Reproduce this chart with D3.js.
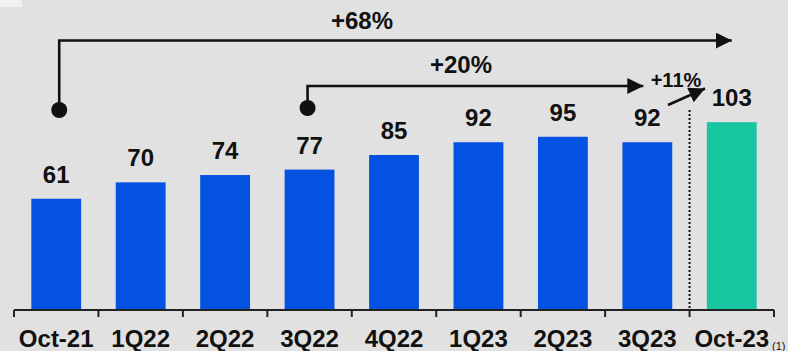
<!DOCTYPE html>
<html>
<head>
<meta charset="utf-8">
<script src="https://cdn.jsdelivr.net/npm/d3@7"></script>
<style>
html, body { margin: 0; padding: 0; background: #e1e1e1; }
svg { display: block; }
text { font-family: "Liberation Sans", Arial, sans-serif; font-weight: bold; fill: #111; }
</style>
</head>
<body>
<script>
const categories = ["Oct-21", "1Q22", "2Q22", "3Q22", "4Q22", "1Q23", "2Q23", "3Q23", "Oct-23"];
const values = [61, 70, 74, 77, 85, 92, 95, 92, 103];
const highlight = [false, false, false, false, false, false, false, false, true];
const growthLabels = ["+68%", "+20%", "+11%"];
const footnote = "(1)";

const W = 788, H = 351;
const svg = d3.select("body").append("svg").attr("width", W).attr("height", H);

svg.append("rect").attr("x", 0).attr("y", 0).attr("width", W).attr("height", H).attr("fill", "#e1e1e1");
svg.append("rect").attr("x", 0).attr("y", 0).attr("width", 22).attr("height", 7).attr("fill", "#f1f1f1");

const x = d3.scaleBand().domain(categories).range([14, 774]).paddingInner(0.41).paddingOuter(0.205);
const y = d3.scaleLinear().domain([0, 170]).range([310, 0]);
const cx = c => x(c) + x.bandwidth() / 2;

const defs = svg.append("defs");
defs.append("marker").attr("id", "ah").attr("viewBox", "0 0 10 10")
  .attr("refX", 10).attr("refY", 5).attr("markerWidth", 16).attr("markerHeight", 16)
  .attr("markerUnits", "userSpaceOnUse").attr("orient", "auto")
  .append("path").attr("d", "M0,0 L10,5 L0,10 Z").attr("fill", "#111");

// bars
svg.selectAll("rect.bar").data(categories).enter().append("rect")
  .attr("class", "bar")
  .attr("x", c => x(c))
  .attr("width", x.bandwidth())
  .attr("y", (c, i) => y(values[i]))
  .attr("height", (c, i) => y(0) - y(values[i]))
  .attr("fill", (c, i) => highlight[i] ? "#19c6a2" : "#0551e1");

// value labels
svg.selectAll("text.val").data(categories).enter().append("text")
  .attr("class", "val")
  .attr("x", c => cx(c))
  .attr("y", (c, i) => y(values[i]) - 16)
  .attr("text-anchor", "middle")
  .attr("font-size", 24)
  .text((c, i) => values[i]);

// axis
const step = x.step();
const x0 = x.range()[0];
svg.append("line").attr("x1", x0).attr("x2", x.range()[1]).attr("y1", y(0)).attr("y2", y(0))
  .attr("stroke", "#222").attr("stroke-width", 2);
d3.range(categories.length + 1).forEach(i => {
  svg.append("line").attr("x1", x0 + i * step).attr("x2", x0 + i * step)
    .attr("y1", y(0)).attr("y2", y(0) + 7).attr("stroke", "#222").attr("stroke-width", 2);
});
svg.selectAll("text.cat").data(categories).enter().append("text")
  .attr("class", "cat")
  .attr("x", c => cx(c))
  .attr("y", 346.5)
  .attr("text-anchor", "middle")
  .attr("font-size", 24)
  .text(c => c);
svg.append("text").attr("x", 772).attr("y", 350).attr("font-size", 11)
  .style("font-weight", "normal").text(footnote);

// dotted separator
const sepX = x0 + 8 * step;
svg.append("line").attr("x1", sepX).attr("x2", sepX).attr("y1", 110).attr("y2", y(0))
  .attr("stroke", "#111").attr("stroke-width", 2).attr("stroke-dasharray", "2,2");

// bracket 1: Oct-21 -> Oct-23
const b1x = cx("Oct-21") + 3, b1y = 40.5, b1tip = cx("Oct-23");
svg.append("path").attr("d", `M${b1x},110 V${b1y} H${b1tip}`)
  .attr("fill", "none").attr("stroke", "#111").attr("stroke-width", 2.6)
  .attr("marker-end", "url(#ah)");
svg.append("circle").attr("cx", b1x).attr("cy", 110).attr("r", 8).attr("fill", "#111");
svg.append("text").attr("x", 362).attr("y", 28.5).attr("text-anchor", "middle").attr("font-size", 24).text(growthLabels[0]);

// bracket 2: 3Q22 -> 3Q23
const b2x = cx("3Q22") - 2, b2y = 86, b2tip = cx("3Q23") - 4;
svg.append("path").attr("d", `M${b2x},108 V${b2y} H${b2tip}`)
  .attr("fill", "none").attr("stroke", "#111").attr("stroke-width", 2.6)
  .attr("marker-end", "url(#ah)");
svg.append("circle").attr("cx", b2x).attr("cy", 108).attr("r", 8).attr("fill", "#111");
svg.append("text").attr("x", 461).attr("y", 73).attr("text-anchor", "middle").attr("font-size", 24).text(growthLabels[1]);

// small arrow 3Q23 -> Oct-23
svg.append("line").attr("x1", 668).attr("y1", 105).attr("x2", 705).attr("y2", 88.5)
  .attr("stroke", "#111").attr("stroke-width", 2.6).attr("marker-end", "url(#ah)");
svg.append("text").attr("x", 676).attr("y", 86.5).attr("text-anchor", "middle").attr("font-size", 20).text(growthLabels[2]);
</script>
</body>
</html>
